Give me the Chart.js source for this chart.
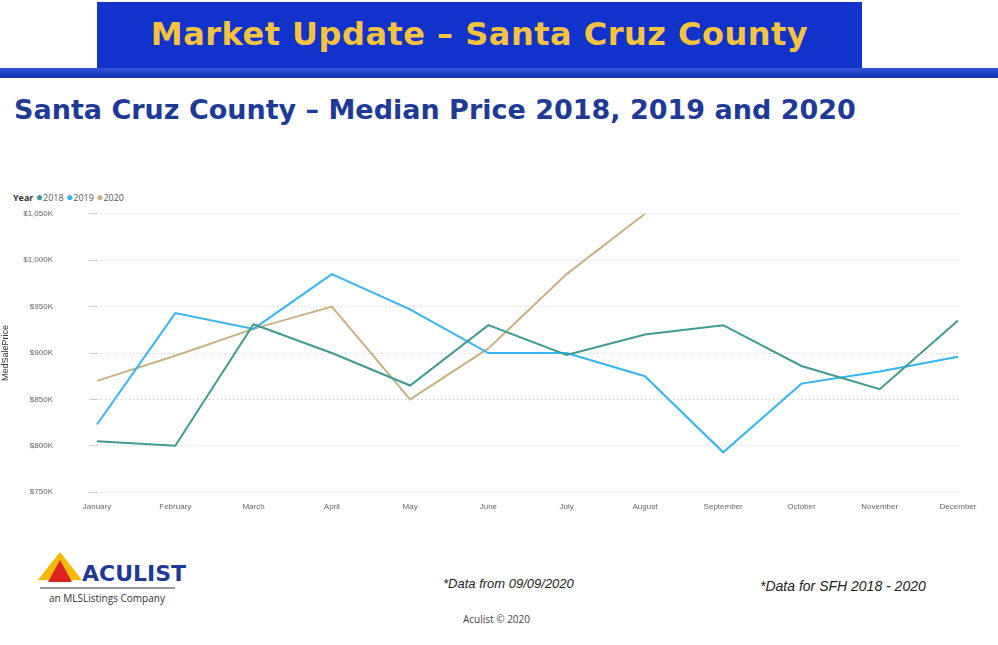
<!DOCTYPE html>
<html><head><meta charset="utf-8">
<script src="https://cdn.jsdelivr.net/npm/chart.js@4"></script>
<style>
body{margin:0;width:998px;height:645px;background:#fff;position:relative;overflow:hidden;font-family:"Open Sans",sans-serif}
.abs{position:absolute}
</style></head><body>
<div class="abs" style="left:97px;top:2px;width:765px;height:66px;background:#1133cc;"></div>
<div class="abs" style="left:97px;top:15px;width:765px;text-align:center;font:bold 32px 'DejaVu Sans',sans-serif;color:#f5c340;letter-spacing:0.5px">Market Update – Santa Cruz County</div>
<div class="abs" style="left:0;top:68px;width:998px;height:10px;background:linear-gradient(#3355dd,#1030b0)"></div>
<div class="abs" style="left:14px;top:94px;font:bold 27px 'DejaVu Sans',sans-serif;color:#1e3a96">Santa Cruz County – Median Price 2018, 2019 and 2020</div>
<div class="abs" style="left:13px;top:188px;font-size:9px;color:#555"><b style="color:#333">Year</b>
<span style="color:#3f9a93;font-size:12px">●</span>2018 <span style="color:#33b5f5;font-size:12px">●</span>2019 <span style="color:#c8b282;font-size:12px">●</span>2020</div>
<div class="abs" style="left:0;top:173px;width:990px;height:360px"><canvas id="c"></canvas></div>
<div class="abs" style="left:38px;top:552px;width:0;height:0;border-left:22px solid transparent;border-right:22px solid transparent;border-bottom:28px solid #f5b800"></div>
<div class="abs" style="left:48px;top:560px;width:0;height:0;border-left:12px solid transparent;border-right:12px solid transparent;border-bottom:22px solid #d22"></div>
<div class="abs" style="left:82px;top:561px;font:bold 22px 'DejaVu Sans',sans-serif;color:#1e3a96">ACULIST</div>
<div class="abs" style="left:40px;top:587px;width:135px;height:2px;background:#999"></div>
<div class="abs" style="left:49px;top:591px;font-size:10px;color:#333">an MLSListings Company</div>
<div class="abs" style="left:443px;top:576px;font:italic 13px 'Liberation Sans',sans-serif;color:#222">*Data from 09/09/2020</div>
<div class="abs" style="left:760px;top:578px;font:italic 14px 'Liberation Sans',sans-serif;color:#222">*Data for SFH 2018 - 2020</div>
<div class="abs" style="left:463px;top:612px;font-size:10px;color:#444">Aculist © 2020</div>
<script>
const months=["January","February","March","April","May","June","July","August","September","October","November","December"];
const s2018=[805,800,931,900,865,930,898,920,930,886,861,935];
const s2019=[823,943,926,985,947,900,900,875,793,867,880,896];
const s2020=[870,897,926,950,850,905,985,1050,null,null,null,null];
const yTicks=[750,800,850,900,950,1000,1050];
const ds=(d,c)=>({data:d,borderColor:c,borderWidth:2,pointRadius:0,tension:0,fill:false});
new Chart(document.getElementById('c'),{type:'line',
data:{labels:months,datasets:[ds(s2018,'#3f9a93'),ds(s2019,'#33b5f5'),ds(s2020,'#c8b282')]},
options:{responsive:true,maintainAspectRatio:false,animation:false,
layout:{padding:{top:13,right:32}},
plugins:{legend:{display:false},tooltip:{enabled:false}},
scales:{
x:{offset:false,grid:{display:false},border:{display:false},ticks:{color:'#666',font:{size:8},maxRotation:0,padding:2}},
y:{min:750,max:1050,afterFit:s=>{s.width=97},afterBuildTicks:s=>{s.ticks=yTicks.map(v=>({value:v}))},
grid:{color:'#ccc'},border:{display:false,dash:[1,3]},
ticks:{color:'#666',font:{size:8},padding:36,callback:v=>'$'+v.toLocaleString('en-US')+'K'},
title:{display:true,text:'MedSalePrice',color:'#333',font:{size:9},padding:0}}}}});
</script></body></html>
